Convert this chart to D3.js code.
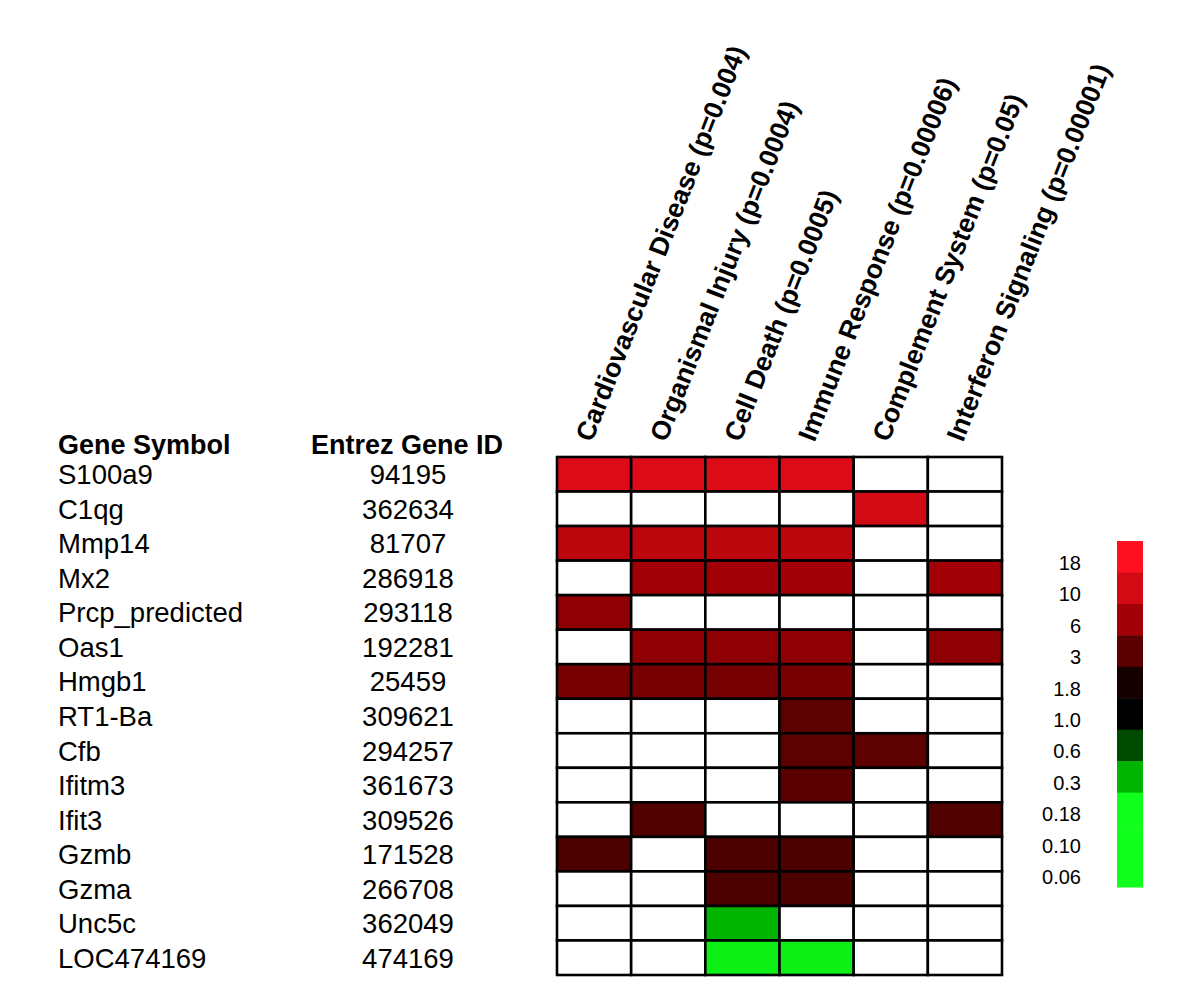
<!DOCTYPE html>
<html><head><meta charset="utf-8">
<script src="https://cdn.jsdelivr.net/npm/d3@7"></script>
<style>body{margin:0;background:#fff}svg{display:block}text{font-family:"Liberation Sans",Arial,sans-serif}</style>
</head><body>
<svg id="c" width="1200" height="1000"></svg>
<script>
const categories = ["Cardiovascular Disease (p=0.004)","Organismal Injury (p=0.0004)","Cell Death (p=0.0005)","Immune Response (p=0.00006)","Complement System (p=0.05)","Interferon Signaling (p=0.00001)"];
const genes = ["S100a9","C1qg","Mmp14","Mx2","Prcp_predicted","Oas1","Hmgb1","RT1-Ba","Cfb","Ifitm3","Ifit3","Gzmb","Gzma","Unc5c","LOC474169"];
const entrezIds = ["94195","362634","81707","286918","293118","192281","25459","309621","294257","361673","309526","171528","266708","362049","474169"];
const foldChange = [11.5, 10, 8, 6, 5, 5, 4, 3.1, 3.1, 3, 2.8, 2.7, 2.7, 0.3, 0.2];
// membership: 1 = gene annotated in category
const membership = [
 [1,1,1,1,0,0],
 [0,0,0,0,1,0],
 [1,1,1,1,0,0],
 [0,1,1,1,0,1],
 [1,0,0,0,0,0],
 [0,1,1,1,0,1],
 [1,1,1,1,0,0],
 [0,0,0,1,0,0],
 [0,0,0,1,1,0],
 [0,0,0,1,0,0],
 [0,1,0,0,0,1],
 [1,0,1,1,0,0],
 [0,0,1,1,0,0],
 [0,0,1,0,0,0],
 [0,0,1,1,0,0]
];
const legendLabels = ["18","10","6","3","1.8","1.0","0.6","0.3","0.18","0.10","0.06"];
const legendValues = [18,10,6,3,1.8,1.0,0.6,0.3,0.18,0.10,0.06];
const legendStops = ["#ff1020","#d20a14","#a00006","#5a0000","#140000","#000000","#004a00","#00b400","#10ff1c","#10ff1c","#10ff1c"];

const color = d3.scaleLog().domain(legendValues.slice().reverse()).range(legendStops.slice().reverse()).interpolate(d3.interpolateRgb).clamp(true);

const svg = d3.select("#c");
const x = d3.scaleBand().domain(categories).range([557,1002]);
const y = d3.scaleBand().domain(genes).range([457,975]);

// cells
const cells = [];
genes.forEach((g,i)=>categories.forEach((c,j)=>cells.push({g,c,v:membership[i][j]?foldChange[i]:null})));
svg.append("g").selectAll("rect").data(cells).join("rect")
  .attr("x",d=>x(d.c)).attr("y",d=>y(d.g))
  .attr("width",x.bandwidth()).attr("height",y.bandwidth())
  .attr("fill",d=>d.v==null?"#fff":color(d.v))
  .attr("stroke","#000").attr("stroke-width",2.6);

// column labels
svg.append("g").selectAll("text").data(categories).join("text")
  .attr("transform",d=>`translate(${x(d)+x.bandwidth()/2-2},443) rotate(-68.5)`)
  .attr("font-size",26.5).attr("font-weight","bold").text(d=>d);

// headers
svg.append("text").attr("x",58).attr("y",454).attr("font-size",27).attr("font-weight","bold").text("Gene Symbol");
svg.append("text").attr("x",407).attr("y",454).attr("text-anchor","middle").attr("font-size",27).attr("font-weight","bold").text("Entrez Gene ID");

svg.append("g").selectAll("text").data(genes).join("text")
  .attr("x",58).attr("y",d=>y(d)+y.bandwidth()/2+10).attr("font-size",27.5).text(d=>d);
svg.append("g").selectAll("text").data(entrezIds).join("text")
  .attr("x",408).attr("y",(d,i)=>y(genes[i])+y.bandwidth()/2+10).attr("text-anchor","middle").attr("font-size",27.5).text(d=>d);

// legend
const ly = d3.scaleBand().domain(legendLabels).range([541,887]);
const lg = svg.append("g");
lg.selectAll("rect").data(legendLabels).join("rect")
  .attr("x",1117).attr("y",d=>ly(d)).attr("width",26).attr("height",ly.bandwidth()+0.5)
  .attr("fill",(d,i)=>legendStops[i]);
lg.selectAll("text").data(legendLabels).join("text")
  .attr("x",1081).attr("y",d=>ly(d)+ly.bandwidth()/2+13).attr("text-anchor","end").attr("font-size",20).text(d=>d);
</script>
</body></html>
